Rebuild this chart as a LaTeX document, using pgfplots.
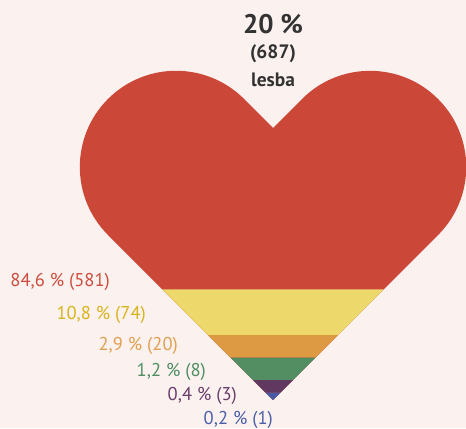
\documentclass[border=0pt]{standalone}
\usepackage{pgfplots}
\pgfplotsset{compat=1.18}
\usepackage{fontspec}
\setmainfont{PT Sans}
\definecolor{bg}{HTML}{FBF1EF}
\definecolor{cred}{HTML}{CB4737}
\definecolor{cyel}{HTML}{EDD86C}
\definecolor{cora}{HTML}{DE9A42}
\definecolor{cgrn}{HTML}{528E62}
\definecolor{cpur}{HTML}{603860}
\definecolor{cblu}{HTML}{465AA5}
\definecolor{lred}{HTML}{CC4D3D}
\definecolor{lyel}{HTML}{D9B41C}
\definecolor{lora}{HTML}{E0A050}
\definecolor{lgrn}{HTML}{4E8E62}
\definecolor{lpur}{HTML}{6A3E6A}
\definecolor{lblu}{HTML}{4A5FA8}
\definecolor{dark}{HTML}{333333}
\begin{document}
\begin{tikzpicture}
\begin{axis}[x=1bp,y=1bp,xmin=0,xmax=466,ymin=0,ymax=428,hide axis,clip=false,disabledatascaling]
\fill[bg] (axis cs:0,0) rectangle (axis cs:466,428);
\fill[cred] (axis cs:273,28) -- (axis cs:108,193) arc[start angle=225,end angle=45,radius=96.2] -- (axis cs:273,300) -- (axis cs:302,329) arc[start angle=135,end angle=-45,radius=96.2] -- cycle;
% bands (bottom to top)
\addplot[draw=none,fill=cyel] coordinates {(162.3,138.7) (383.7,138.7) (338,93) (208,93)} -- cycle;
\addplot[draw=none,fill=cora] coordinates {(208,93) (338,93) (315.3,70.3) (230.7,70.3)} -- cycle;
\addplot[draw=none,fill=cgrn] coordinates {(230.7,70.3) (315.3,70.3) (293,48) (253,48)} -- cycle;
\addplot[draw=none,fill=cpur] coordinates {(253,48) (293,48) (280.3,35.3) (265.7,35.3)} -- cycle;
\addplot[draw=none,fill=cblu] coordinates {(265.7,35.3) (280.3,35.3) (273,28)} -- cycle;
% labels
\tikzset{lab/.style={anchor=base east,inner sep=0pt,font=\fontsize{18.6}{19}\selectfont}}
\node[lab,text=lred] at (axis cs:110,142) {84,6 \% (581)};
\node[lab,text=lyel] at (axis cs:146,109) {10,8 \% (74)};
\node[lab,text=lora] at (axis cs:178,78) {2,9 \% (20)};
\node[lab,text=lgrn] at (axis cs:206,52) {1,2 \% (8)};
\node[lab,text=lpur] at (axis cs:237,28) {0,4 \% (3)};
\node[lab,text=lblu] at (axis cs:273,4) {0,2 \% (1)};
\node[anchor=base,inner sep=0pt,text=dark,font=\fontsize{27}{27}\selectfont\bfseries] at (axis cs:273,394) {20 \%};
\node[anchor=base,inner sep=0pt,text=dark,font=\fontsize{19.5}{20}\selectfont\bfseries] at (axis cs:273,370) {(687)};
\node[anchor=base,inner sep=0pt,text=dark,font=\fontsize{19.5}{20}\selectfont\bfseries] at (axis cs:273,342) {lesba};
\end{axis}
\pgfresetboundingbox
\path (current axis.south west) rectangle (current axis.north east);
\end{tikzpicture}
\end{document}
